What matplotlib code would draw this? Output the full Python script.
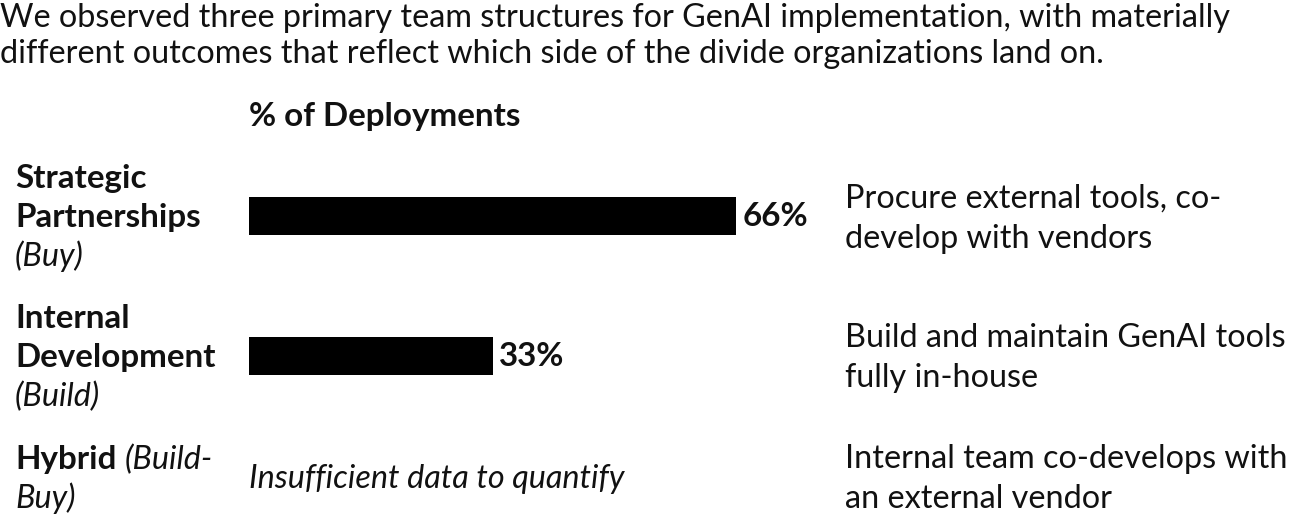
import matplotlib
matplotlib.use("Agg")
import matplotlib.pyplot as plt

# ---- data ----
title_lines = [
    "We observed three primary team structures for GenAI implementation, with materially",
    "different outcomes that reflect which side of the divide organizations land on.",
]
axis_title = "% of Deployments"
label_lines = [["Strategic", "Partnerships"], ["Internal", "Development"], ["Hybrid"]]
qualifiers = ["(Buy)", "(Build)", "(Build-Buy)"]
values = [66, 33]
value_labels = ["66%", "33%"]
no_data_text = "Insufficient data to quantify"
descriptions = [
    ["Procure external tools, co-", "develop with vendors"],
    ["Build and maintain GenAI tools", "fully in-house"],
    ["Internal team co-develops with", "an external vendor"],
]

W, H = 1293, 515
FONT = "Lato"
FS = 23.3
FSB = 23.9
TXT = "#111111"

fig = plt.figure(figsize=(W / 100, H / 100), dpi=100)
fig.patch.set_facecolor("white")


def px(x, y):
    return x / W, 1 - y / H


def put(x, y, s, **kw):
    if kw.get("fontweight") == "bold":
        kw.setdefault("fontsize", FSB)
    kw.setdefault("fontsize", FS)
    kw.setdefault("color", TXT)
    kw.setdefault("family", FONT)
    return fig.text(*px(x, y), s, va="baseline", ha="left", **kw)


# title
put(0, 27, title_lines[0])
put(0, 63, title_lines[1])
put(249, 126, axis_title, fontweight="bold")

# bar axes: index 0 -> y=216px, index 1 -> y=356px
ax_top, ax_bot = 146, 426
ax_left, ax_right = 249, 835
ax = fig.add_axes([ax_left / W, (H - ax_bot) / H, (ax_right - ax_left) / W, (ax_bot - ax_top) / H])
ax.set_xlim(0, 66 * (ax_right - ax_left) / 487)
ax.set_ylim(1.5, -0.5)
ax.axis("off")
ypos = list(range(len(values)))
ax.barh(ypos, values, height=0.265, color="black")
for y, v, lab in zip(ypos, values, value_labels):
    ax.annotate(lab, xy=(v, y), xytext=(4.5, 0), textcoords="offset points",
                va="center", ha="left", fontsize=FSB, fontweight="bold",
                family=FONT, color=TXT)

# row labels
put(15, 188, label_lines[0][0], fontweight="bold")
put(15, 227, label_lines[0][1], fontweight="bold")
put(15, 266, qualifiers[0], style="italic")
put(15, 328, label_lines[1][0], fontweight="bold")
put(15, 367, label_lines[1][1], fontweight="bold")
put(15, 406, qualifiers[1], style="italic")
hb = put(15, 469, label_lines[2][0], fontweight="bold")
fig.canvas.draw()
bb = hb.get_window_extent()
q1, q2 = qualifiers[2].split("-")
put(bb.x1 + 8, 469, q1 + "-", style="italic")
put(15, 508, q2, style="italic")

put(249, 488, no_data_text, style="italic")

# descriptions
for (l1, l2), b in zip(descriptions, [208, 347, 468]):
    put(845, b, l1)
    put(845, b + 40, l2)

fig.savefig("out.png", dpi=100, facecolor="white")
